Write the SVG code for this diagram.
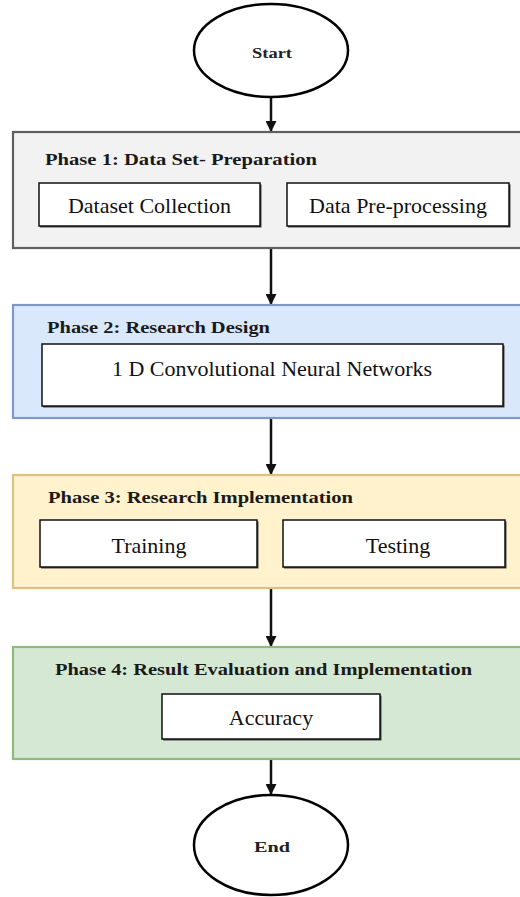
<svg xmlns="http://www.w3.org/2000/svg" width="520" height="897" viewBox="0 0 520 897">
<defs>
<style>
.term{fill:#ffffff;stroke:#000;stroke-width:2.5}
.termtxt{font-family:"Liberation Serif",serif;font-weight:bold;font-size:15px;fill:#222;text-anchor:middle}
.title{font-family:"Liberation Serif",serif;font-weight:bold;font-size:17px;fill:#1a1a1a}
.box{fill:#ffffff;stroke:#111;stroke-width:1.5}
.shadow{fill:#444}
.txt{font-family:"Liberation Serif",serif;font-size:22px;fill:#111;text-anchor:middle}
.conn{stroke:#111;stroke-width:2.5;fill:none}
</style>
<marker id="arr" viewBox="0 0 10 10" refX="10" refY="5" markerWidth="4.4" markerHeight="4.4" markerUnits="strokeWidth" orient="auto">
<path d="M0,0 L10,5 L0,10 z" fill="#111"/>
</marker>
</defs>
<rect width="520" height="897" fill="#ffffff"/>

<g id="connectors">
<line class="conn" x1="271" y1="97" x2="271" y2="132" marker-end="url(#arr)"/>
<line class="conn" x1="271" y1="249" x2="271" y2="305" marker-end="url(#arr)"/>
<line class="conn" x1="271" y1="419" x2="271" y2="475" marker-end="url(#arr)"/>
<line class="conn" x1="271" y1="589" x2="271" y2="647" marker-end="url(#arr)"/>
<line class="conn" x1="271" y1="760" x2="271" y2="795" marker-end="url(#arr)"/>
</g>

<g id="start">
<ellipse class="term" cx="271" cy="50.5" rx="77" ry="46.5"/>
<text class="termtxt" x="272" y="58" textLength="40" lengthAdjust="spacingAndGlyphs">Start</text>
</g>

<g id="phase1">
<rect x="13" y="132" width="510" height="116" fill="#f2f2f2" stroke="#5f5f5f" stroke-width="2.2"/>
<text class="title" x="45" y="165" textLength="272" lengthAdjust="spacingAndGlyphs">Phase 1: Data Set- Preparation</text>
<g id="dataset-collection">
<rect class="shadow" x="40" y="184.5" width="221.5" height="43"/>
<rect class="box" x="39" y="183" width="221" height="43"/>
<text class="txt" x="149.5" y="213">Dataset Collection</text>
</g>
<g id="data-preprocessing">
<rect class="shadow" x="288" y="184.5" width="222.5" height="43"/>
<rect class="box" x="287" y="183" width="222" height="43"/>
<text class="txt" x="398" y="213">Data Pre-processing</text>
</g>
</g>

<g id="phase2">
<rect x="13" y="305" width="510" height="113" fill="#dae8fc" stroke="#7f98c4" stroke-width="2.2"/>
<text class="title" x="47" y="333" textLength="223" lengthAdjust="spacingAndGlyphs">Phase 2: Research Design</text>
<g id="cnn">
<rect class="shadow" x="43" y="345.5" width="461.5" height="62"/>
<rect class="box" x="42" y="344" width="461" height="62"/>
<text class="txt" x="272" y="376">1 D Convolutional Neural Networks</text>
</g>
</g>

<g id="phase3">
<rect x="13" y="475" width="510" height="113" fill="#fff2cc" stroke="#dcc27a" stroke-width="2.2"/>
<text class="title" x="48" y="503" textLength="305" lengthAdjust="spacingAndGlyphs">Phase 3: Research Implementation</text>
<g id="training">
<rect class="shadow" x="41" y="521.5" width="217.5" height="47"/>
<rect class="box" x="40" y="520" width="217" height="47"/>
<text class="txt" x="149" y="553">Training</text>
</g>
<g id="testing">
<rect class="shadow" x="284" y="521.5" width="222.5" height="47"/>
<rect class="box" x="283" y="520" width="222" height="47"/>
<text class="txt" x="398" y="553">Testing</text>
</g>
</g>

<g id="phase4">
<rect x="13" y="647" width="510" height="112" fill="#d5e8d4" stroke="#8fba7a" stroke-width="2.2"/>
<text class="title" x="55" y="675" textLength="417" lengthAdjust="spacingAndGlyphs">Phase 4: Result Evaluation and Implementation</text>
<g id="accuracy">
<rect class="shadow" x="163" y="695.5" width="218.5" height="45"/>
<rect class="box" x="162" y="694" width="218" height="45"/>
<text class="txt" x="271" y="725">Accuracy</text>
</g>
</g>

<g id="end">
<ellipse class="term" cx="271" cy="845" rx="77" ry="50"/>
<text class="termtxt" x="272" y="852" textLength="36" lengthAdjust="spacingAndGlyphs">End</text>
</g>
</svg>
